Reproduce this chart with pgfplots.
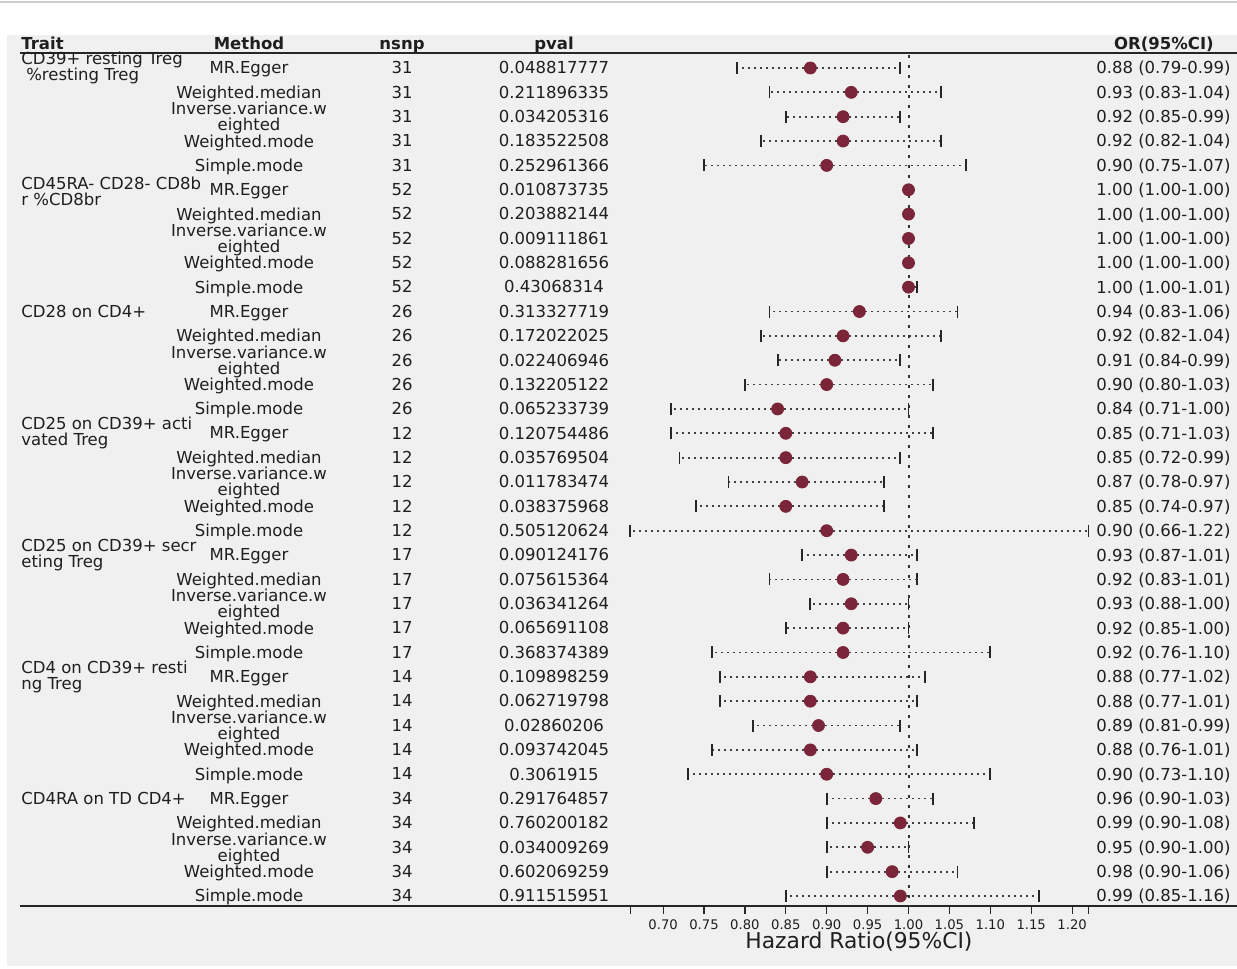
\documentclass[border=0pt]{standalone}
\usepackage{pgfplots}
\pgfplotsset{compat=1.18}
\usepackage{pgfplotstable}
\usetikzlibrary{backgrounds}
\usepackage{fontspec}
\setmainfont{DejaVu Sans}
\definecolor{bggray}{RGB}{240,240,240}
\definecolor{dotred}{RGB}{122,38,56}
\definecolor{topline}{RGB}{205,205,205}
\newcommand{\IVW}{Inverse.variance.w\\eighted}
\pgfplotstableread[col sep=comma]{
row,method,nsnp,pval,or,lo,hi,ortxt
1,MR.Egger,31,0.048817777,0.88,0.79,0.99,0.88 (0.79-0.99)
2,Weighted.median,31,0.211896335,0.93,0.83,1.04,0.93 (0.83-1.04)
3,\IVW,31,0.034205316,0.92,0.85,0.99,0.92 (0.85-0.99)
4,Weighted.mode,31,0.183522508,0.92,0.82,1.04,0.92 (0.82-1.04)
5,Simple.mode,31,0.252961366,0.90,0.75,1.07,0.90 (0.75-1.07)
6,MR.Egger,52,0.010873735,1.00,1.00,1.00,1.00 (1.00-1.00)
7,Weighted.median,52,0.203882144,1.00,1.00,1.00,1.00 (1.00-1.00)
8,\IVW,52,0.009111861,1.00,1.00,1.00,1.00 (1.00-1.00)
9,Weighted.mode,52,0.088281656,1.00,1.00,1.00,1.00 (1.00-1.00)
10,Simple.mode,52,0.43068314,1.00,1.00,1.01,1.00 (1.00-1.01)
11,MR.Egger,26,0.313327719,0.94,0.83,1.06,0.94 (0.83-1.06)
12,Weighted.median,26,0.172022025,0.92,0.82,1.04,0.92 (0.82-1.04)
13,\IVW,26,0.022406946,0.91,0.84,0.99,0.91 (0.84-0.99)
14,Weighted.mode,26,0.132205122,0.90,0.80,1.03,0.90 (0.80-1.03)
15,Simple.mode,26,0.065233739,0.84,0.71,1.00,0.84 (0.71-1.00)
16,MR.Egger,12,0.120754486,0.85,0.71,1.03,0.85 (0.71-1.03)
17,Weighted.median,12,0.035769504,0.85,0.72,0.99,0.85 (0.72-0.99)
18,\IVW,12,0.011783474,0.87,0.78,0.97,0.87 (0.78-0.97)
19,Weighted.mode,12,0.038375968,0.85,0.74,0.97,0.85 (0.74-0.97)
20,Simple.mode,12,0.505120624,0.90,0.66,1.22,0.90 (0.66-1.22)
21,MR.Egger,17,0.090124176,0.93,0.87,1.01,0.93 (0.87-1.01)
22,Weighted.median,17,0.075615364,0.92,0.83,1.01,0.92 (0.83-1.01)
23,\IVW,17,0.036341264,0.93,0.88,1.00,0.93 (0.88-1.00)
24,Weighted.mode,17,0.065691108,0.92,0.85,1.00,0.92 (0.85-1.00)
25,Simple.mode,17,0.368374389,0.92,0.76,1.10,0.92 (0.76-1.10)
26,MR.Egger,14,0.109898259,0.88,0.77,1.02,0.88 (0.77-1.02)
27,Weighted.median,14,0.062719798,0.88,0.77,1.01,0.88 (0.77-1.01)
28,\IVW,14,0.02860206,0.89,0.81,0.99,0.89 (0.81-0.99)
29,Weighted.mode,14,0.093742045,0.88,0.76,1.01,0.88 (0.76-1.01)
30,Simple.mode,14,0.3061915,0.90,0.73,1.10,0.90 (0.73-1.10)
31,MR.Egger,34,0.291764857,0.96,0.90,1.03,0.96 (0.90-1.03)
32,Weighted.median,34,0.760200182,0.99,0.90,1.08,0.99 (0.90-1.08)
33,\IVW,34,0.034009269,0.95,0.90,1.00,0.95 (0.90-1.00)
34,Weighted.mode,34,0.602069259,0.98,0.90,1.06,0.98 (0.90-1.06)
35,Simple.mode,34,0.911515951,0.99,0.85,1.16,0.99 (0.85-1.16)
}\data

\pgfplotsset{
  txtcol/.style={only marks, mark=none, nodes near coords, point meta=explicit symbolic,
    every node near coord/.append style={anchor=center, align=center,
      font=\fontsize{8.25}{8}\selectfont, text=black!88, inner sep=0pt, yshift=-0.7pt,
      execute at begin node={\vphantom{Ag}}}},
}

\begin{document}
\begin{tikzpicture}
\begin{axis}[
  scale only axis, width=615pt, height=453pt,
  xmin=-0.10208, xmax=1.40159, ymin=-35.410, ymax=1.7922,
  axis line style={draw=none},
  clip=false,
  ytick=\empty,
  xtick={0.66,0.70,0.75,0.80,0.85,0.90,0.95,1.00,1.05,1.10,1.15,1.20,1.22},
  xticklabels={,0.70,0.75,0.80,0.85,0.90,0.95,1.00,1.05,1.10,1.15,1.20,},
  xtick pos=left,
  tick align=outside,
  major tick length=4pt,
  every tick/.style={black!85, line width=0.6pt},
  xticklabel style={font=\fontsize{6.6}{8}\selectfont, text=black!88, yshift=0.5pt},
  /pgf/number format/assume math mode=true,
]
\coordinate (BL) at (axis cs:-0.11064,-37.997);
\coordinate (TR) at (axis cs:1.40159,1.7922);
\coordinate (GBL) at (axis cs:-0.10208,-37.874);
\coordinate (GTR) at (axis cs:1.40159,0.3551);
\coordinate (TL1) at (axis cs:-0.11064,1.7101);
\coordinate (TL2) at (axis cs:1.40159,1.7101);

\draw[line width=1pt, black!85] (axis cs:-0.0862,-0.384) -- (axis cs:1.40159,-0.384);
\draw[line width=1pt, black!85] (axis cs:-0.0862,-35.41) -- (axis cs:1.40159,-35.41);
\draw[line width=1pt, black!80, dash pattern=on 1.5pt off 3.5pt] (axis cs:1,-0.466) -- (axis cs:1,-35.41);

% CI whiskers
\addplot[only marks, mark=none, forget plot,
  error bars/.cd, x dir=both, x explicit,
  error bar style={line width=0.9pt, black!75, dash pattern=on 1pt off 2pt},
  error mark=|, error mark options={solid, line width=0.9pt, mark size=3pt, black!85}]
  table[x=or, y expr=-\thisrow{row}, x error plus expr=\thisrow{hi}-\thisrow{or},
        x error minus expr=\thisrow{or}-\thisrow{lo}] {\data};
% point estimates
\addplot[only marks, mark=*, mark size=3pt, mark options={fill=dotred, draw=dotred}]
  table[x=or, y expr=-\thisrow{row}] {\data};

% text columns
\addplot[txtcol] table[x expr=0.19377, y expr=-\thisrow{row}, meta=method] {\data};
\addplot[txtcol] table[x expr=0.38081, y expr=-\thisrow{row}, meta=nsnp] {\data};
\addplot[txtcol] table[x expr=0.56663, y expr=-\thisrow{row}, meta=pval] {\data};
\addplot[txtcol] table[x expr=1.3117, y expr=-\thisrow{row}, meta=ortxt] {\data};

% headers
\begin{scope}[every node/.style={font=\fontsize{8.25}{9}\selectfont\bfseries, text=black!88, inner sep=0pt}]
\node[anchor=base west] at (axis cs:-0.0850,-0.2609) {Trait};
\node[anchor=base] at (axis cs:0.19377,-0.2609) {Method};
\node[anchor=base] at (axis cs:0.38081,-0.2609) {nsnp};
\node[anchor=base] at (axis cs:0.56663,-0.2609) {pval};
\node[anchor=base] at (axis cs:1.3123,-0.2609) {OR(95\%CI)};
\end{scope}

% traits
\begin{scope}[every node/.style={anchor=west, align=left, font=\fontsize{8.25}{8}\selectfont, text=black!88, inner sep=0pt}]
\node at (axis cs:-0.0850,-1) {CD39+ resting Treg\\\hspace*{0.3em}\%resting Treg};
\node at (axis cs:-0.0850,-6.05) {CD45RA- CD28- CD8b\\r \%CD8br};
\node at (axis cs:-0.0850,-11) {CD28 on CD4+};
\node at (axis cs:-0.0850,-16) {CD25 on CD39+ acti\\vated Treg};
\node at (axis cs:-0.0850,-21) {CD25 on CD39+ secr\\eting Treg};
\node at (axis cs:-0.0850,-26) {CD4 on CD39+ resti\\ng Treg};
\node at (axis cs:-0.0850,-31) {CD4RA on TD CD4+};
\end{scope}

\node[font=\fontsize{10.9}{12}\selectfont, text=black!88, inner sep=0pt] at (axis cs:0.9394,-36.87) {Hazard Ratio(95\%CI)};
\end{axis}
\begin{scope}[on background layer]
  \fill[white] (BL) rectangle (TR);
  \fill[bggray] (GBL) rectangle (GTR);
  \draw[topline, line width=0.75pt] (TL1) -- (TL2);
\end{scope}
\pgfresetboundingbox
\useasboundingbox (BL) rectangle (TR);
\end{tikzpicture}
\end{document}
